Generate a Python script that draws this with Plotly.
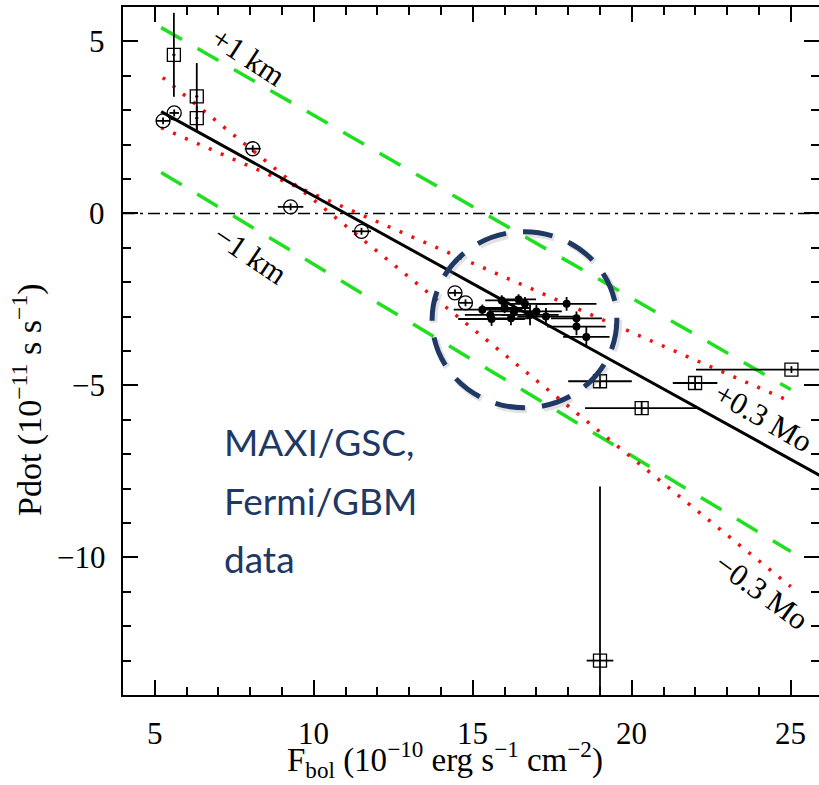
import plotly.graph_objects as go

# ---- observed data: open circles ----
circ_x = [5.26, 5.61, 8.08, 9.27, 11.50, 14.44, 14.77]
circ_y = [2.69, 2.92, 1.88, 0.19, -0.52, -2.31, -2.60]
circ_xerr = [0.22, 0.15, 0.25, 0.40, 0.30, 0.20, 0.20]
circ_yerr = [0.10, 0.10, 0.10, 0.10, 0.10, 0.10, 0.10]

# ---- observed data: open squares ----
sq_x = [5.60, 6.32, 6.32, 19.00, 20.31, 21.99, 25.02, 19.00]
sq_y = [4.61, 3.40, 2.77, -4.88, -5.66, -4.93, -4.54, -13.00]
sq_xerr = [0.05, 0.05, 0.05, 1.00, 1.78, 0.70, 3.00, 0.42]
sq_yerr = [1.22, 0.97, 0.35, 0.20, 0.20, 0.20, 0.10, 5.06]

# ---- observed data: filled dots ----
dot_x = [15.91, 16.44, 16.64, 17.95, 18.26, 18.57, 18.26, 15.59, 15.30,
         16.00, 16.30, 16.80, 17.30, 17.00, 15.55, 16.20]
dot_y = [-2.53, -2.50, -2.63, -2.63, -3.29, -3.59, -3.05, -3.07, -2.80,
         -2.75, -2.85, -2.95, -3.00, -2.85, -2.95, -3.05]
dot_xerr = [0.52, 0.55, 0.70, 0.94, 0.92, 0.73, 0.80, 1.05, 0.90,
            0.80, 0.80, 0.90, 0.90, 0.80, 0.80, 0.60]
dot_yerr = [0.15, 0.15, 0.20, 0.20, 0.25, 0.30, 0.20, 0.20, 0.15,
            0.15, 0.20, 0.30, 0.25, 0.20, 0.15, 0.20]

# ---- model relations ----
fit_x = [5.2, 26.0]
fit_y = [2.96, -7.66]
mass_hi_x = [5.2, 25.0]
mass_hi_y = [2.49, -5.47]
mass_lo_x = [5.25, 25.0]
mass_lo_y = [3.95, -10.85]
rad_hi_x = [5.2, 25.0]
rad_hi_y = [5.40, -5.12]
rad_lo_x = [5.2, 25.0]
rad_lo_y = [1.19, -9.83]
zero_x = [4.0, 26.0]
zero_y = [0.0, 0.0]

x_ticks = [5, 10, 15, 20, 25]
y_ticks = [5, 0, -5, -10]

GREEN = "#1fe01f"
RED = "#f01010"
NAVY = "#203864"
SERIF = "Liberation Serif"

# plot-area geometry in pixels (used for paper-coordinate placement of texts)
L, R, T, B = 123, 819, 7, 695
W, H = R - L, B - T


def px_x(px):
    return (px - L) / W


def px_y(py):
    return (B - py) / H


fig = go.Figure()

fig.add_trace(go.Scatter(x=zero_x, y=zero_y, mode="lines",
                         line=dict(color="black", width=1.5, dash="12px,5px,3px,5px")))
for gx, gy in [(rad_hi_x, rad_hi_y), (rad_lo_x, rad_lo_y)]:
    fig.add_trace(go.Scatter(x=gx, y=gy, mode="lines",
                             line=dict(color=GREEN, width=3.5, dash="24px,18px")))
for rx, ry in [(mass_hi_x, mass_hi_y), (mass_lo_x, mass_lo_y)]:
    fig.add_trace(go.Scatter(x=rx, y=ry, mode="lines",
                             line=dict(color=RED, width=3.5, dash="3px,10px")))
fig.add_trace(go.Scatter(x=fit_x, y=fit_y, mode="lines",
                         line=dict(color="black", width=3)))

errstyle = dict(color="black", thickness=1.8, width=0)

fig.add_trace(go.Scatter(
    x=circ_x, y=circ_y, mode="markers",
    marker=dict(symbol="circle-open", size=14, color="black", line=dict(width=1.3)),
    error_x=dict(type="data", array=circ_xerr, **errstyle),
    error_y=dict(type="data", array=circ_yerr, **errstyle)))

fig.add_trace(go.Scatter(
    x=sq_x, y=sq_y, mode="markers",
    marker=dict(symbol="square-open", size=13, color="black", line=dict(width=1.3)),
    error_x=dict(type="data", array=sq_xerr, **errstyle),
    error_y=dict(type="data", array=sq_yerr, **errstyle)))

fig.add_trace(go.Scatter(
    x=dot_x, y=dot_y, mode="markers",
    marker=dict(symbol="circle", size=8, color="black"),
    error_x=dict(type="data", array=dot_xerr, **errstyle),
    error_y=dict(type="data", array=dot_yerr, **errstyle)))

# right-hand tick marks
fig.add_trace(go.Scatter(x=[4], y=[0], yaxis="y2", mode="markers",
                         marker=dict(opacity=0), hoverinfo="skip"))

# highlighted region
fig.add_shape(type="circle", xref="x", yref="y", x0=13.78, x1=19.59, y0=-0.59, y1=-5.71,
              line=dict(color="rgba(140,140,140,0.25)", width=7, dash="30px,17px"))
fig.add_shape(type="circle", xref="x", yref="y", x0=13.72, x1=19.53, y0=-0.53, y1=-5.65,
              line=dict(color=NAVY, width=5, dash="30px,17px"))

label_font = dict(family=SERIF, size=31, color="black")
for txt, lx, ly, ang in [("+1 km", 7.93, 4.56, 33), ("\u22121 km", 8.0, -1.20, 34),
                         ("+0.3 Mo", 24.15, -5.93, 30), ("\u22120.3 Mo", 24.09, -11.0, 36)]:
    fig.add_annotation(x=lx, y=ly, xref="x", yref="y", text=txt, showarrow=False,
                       textangle=ang, font=label_font)

for txt, py in [("MAXI/GSC,", 441), ("Fermi/GBM", 501), ("data", 558)]:
    fig.add_annotation(x=px_x(222), y=px_y(py), xref="paper", yref="paper",
                       text=txt, showarrow=False, xanchor="left", yanchor="middle",
                       font=dict(family="Lato", size=37, color=NAVY))

# tick labels
tickfont = dict(family=SERIF, size=31, color="black")
for v in x_ticks:
    fig.add_annotation(x=v, y=px_y(733), xref="x", yref="paper", text=str(v),
                       showarrow=False, xanchor="center", yanchor="middle", font=tickfont)
for v in y_ticks:
    fig.add_annotation(x=px_x(107), y=v, xref="paper", yref="y",
                       text=str(v).replace("-", "\u2212"),
                       showarrow=False, xanchor="right", yanchor="middle", font=tickfont)

# axis titles
fig.add_annotation(x=px_x(445), y=px_y(785), xref="paper", yref="paper",
                   text="F<sub>bol</sub> (10<sup>\u221210</sup> erg s<sup>\u22121</sup> cm<sup>\u22122</sup>)",
                   showarrow=False, xanchor="center", yanchor="bottom",
                   font=dict(family=SERIF, size=33, color="black"))
fig.add_annotation(x=px_x(27), y=px_y(400), xref="paper", yref="paper",
                   text="Pdot (10<sup>\u221211</sup> s s<sup>\u22121</sup>)", textangle=-90,
                   showarrow=False, xanchor="center", yanchor="middle",
                   font=dict(family=SERIF, size=34, color="black"))

minor = dict(ticks="inside", ticklen=8, tickwidth=2, tickcolor="black", dtick=1, showgrid=False)

fig.update_layout(
    width=819, height=785,
    margin=dict(l=L, r=0, t=T, b=785 - B),
    paper_bgcolor="white", plot_bgcolor="white",
    font=dict(family=SERIF, color="black"),
    showlegend=False,
    xaxis=dict(range=[4, 4 + W / 31.8], tickvals=x_ticks, ticks="inside", ticklen=15,
               tickwidth=2, tickcolor="black", showline=True, linecolor="black",
               linewidth=2, mirror="ticks", showgrid=False, zeroline=False,
               showticklabels=False, minor=minor),
    yaxis=dict(range=[-14, 6], tickvals=y_ticks, ticks="inside", ticklen=15,
               tickwidth=2, tickcolor="black", showline=True, linecolor="black",
               linewidth=2, showgrid=False, zeroline=False,
               showticklabels=False, minor=minor),
    yaxis2=dict(range=[-14, 6], overlaying="y", side="right", tickvals=y_ticks,
                ticks="inside", ticklen=15, tickwidth=2, tickcolor="black",
                showline=False, showgrid=False, zeroline=False, showticklabels=False,
                minor=minor),
)

fig.write_html("out.html")
